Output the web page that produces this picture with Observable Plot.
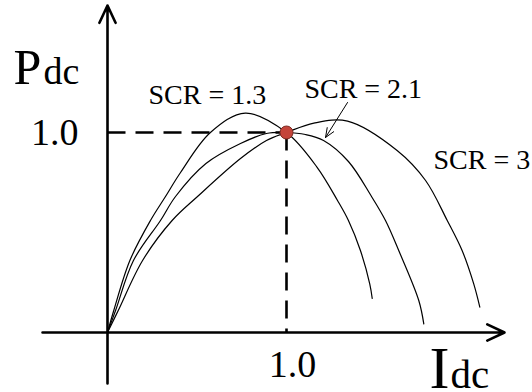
<!DOCTYPE html>
<html>
<head>
<meta charset="utf-8">
<script src="https://cdn.jsdelivr.net/npm/d3@7"></script>
<script src="https://cdn.jsdelivr.net/npm/@observablehq/plot@0.6"></script>
<style>
  body { margin: 0; background: #fff; }
  #chart svg { display: block; }
</style>
</head>
<body>
<div id="chart"></div>
<script>
// Pdc–Idc characteristics for three short-circuit ratios (per-unit values)
const scrNames = ["SCR = 1.3", "SCR = 2.1", "SCR = 3"];

const idc13 = [0, 0.035, 0.125, 0.24, 0.324, 0.408, 0.575, 0.77, 1.0, 1.171, 1.285, 1.346, 1.413, 1.465, 1.479];
const pdc13 = [0, 0.11, 0.36, 0.56, 0.68, 0.80, 1.0, 1.097, 1.0, 0.826, 0.66, 0.56, 0.41, 0.243, 0.17];

const idc21 = [0, 0.045, 0.145, 0.296, 0.38, 0.55, 0.743, 0.888, 1.0, 1.106, 1.207, 1.346, 1.475, 1.553, 1.627, 1.739, 1.767];
const pdc21 = [0, 0.11, 0.36, 0.56, 0.68, 0.845, 0.945, 0.995, 1.0, 0.99, 0.96, 0.855, 0.68, 0.56, 0.41, 0.16, 0.043];

const idc3 = [0, 0.06, 0.196, 0.361, 0.503, 0.743, 0.888, 1.0, 1.153, 1.341, 1.618, 1.777, 1.898, 1.981, 2.046, 2.08];
const pdc3 = [0, 0.11, 0.36, 0.56, 0.68, 0.87, 0.96, 1.0, 1.047, 1.057, 0.91, 0.76, 0.56, 0.41, 0.243, 0.127];

// Rated operating point
const ratedIdc = 1.0;
const ratedPdc = 1.0;
const tickLabel = "1.0";

// Label anchor positions (data units) for the SCR labels
const labelIdc = [0.229, 1.10, 1.821];
const labelPdc = [1.145, 1.175, 0.82];

const toRows = (name, xs, ys) => xs.map((x, i) => ({scr: name, idc: x, pdc: ys[i]}));
const curves = [
  ...toRows(scrNames[0], idc13, pdc13),
  ...toRows(scrNames[1], idc21, pdc21),
  ...toRows(scrNames[2], idc3, pdc3)
];
const labels = scrNames.map((s, i) => ({text: s, idc: labelIdc[i], pdc: labelPdc[i]}));

const serif = "'Liberation Serif', 'Times New Roman', serif";

const chart = Plot.plot({
  width: 532,
  height: 392,
  marginTop: 0, marginRight: 0, marginBottom: 0, marginLeft: 0,
  x: {domain: [-107 / 179, 425 / 179], axis: null},
  y: {domain: [-60 / 200, 332 / 200], axis: null},
  style: {background: "#fff", fontFamily: serif},
  marks: [
    // characteristic curves
    Plot.line(curves, {x: "idc", y: "pdc", z: "scr", curve: "catmull-rom", stroke: "#000", strokeWidth: 1.2}),
    // dashed guides to the rated point
    Plot.link([{x1: 0, y1: ratedPdc, x2: ratedIdc, y2: ratedPdc}], {x1: "x1", y1: "y1", x2: "x2", y2: "y2", stroke: "#000", strokeWidth: 2.6, strokeDasharray: "18,10"}),
    Plot.link([{x1: ratedIdc, y1: ratedPdc, x2: ratedIdc, y2: 0}], {x1: "x1", y1: "y1", x2: "x2", y2: "y2", stroke: "#000", strokeWidth: 2.6, strokeDasharray: "18,10"}),
    // axes with arrowheads
    Plot.arrow([{x1: -0.363, y1: 0, x2: 2.218, y2: 0}], {x1: "x1", y1: "y1", x2: "x2", y2: "y2", stroke: "#000", strokeWidth: 2.6, headLength: 11, headAngle: 50}),
    Plot.arrow([{x1: 0, y1: -0.255, x2: 0, y2: 1.635}], {x1: "x1", y1: "y1", x2: "x2", y2: "y2", stroke: "#000", strokeWidth: 2.6, headLength: 11, headAngle: 50}),
    // pointer to the SCR = 2.1 curve
    Plot.arrow([{x1: 1.341, y1: 1.15, x2: 1.218, y2: 0.975}], {x1: "x1", y1: "y1", x2: "x2", y2: "y2", stroke: "#000", strokeWidth: 1, headLength: 15, headAngle: 45}),
    // rated point marker
    Plot.dot([{idc: ratedIdc, pdc: ratedPdc}], {x: "idc", y: "pdc", r: 6.5, fill: "#c4443a", stroke: "#7d2a22", strokeWidth: 1}),
    // curve labels
    Plot.text(labels, {x: "idc", y: "pdc", text: "text", textAnchor: "start", lineAnchor: "bottom", fontSize: 28, fill: "#000", fontFamily: serif}),
    // tick labels
    Plot.text([tickLabel], {x: 0, y: ratedPdc, text: d => d, textAnchor: "end", lineAnchor: "middle", dx: -29, fontSize: 38, fill: "#000", fontFamily: serif}),
    Plot.text([tickLabel], {x: ratedIdc, y: 0, text: d => d, textAnchor: "middle", lineAnchor: "top", dx: 6, dy: 18, fontSize: 38, fill: "#000", fontFamily: serif}),
    // axis titles
    Plot.text(["P"], {x: -0.525, y: 1.245, text: d => d, textAnchor: "start", lineAnchor: "bottom", fontSize: 50, fill: "#000", fontFamily: serif}),
    Plot.text(["dc"], {x: -0.358, y: 1.245, text: d => d, textAnchor: "start", lineAnchor: "bottom", fontSize: 38, fill: "#000", fontFamily: serif}),
    Plot.text(["I"], {x: 1.799, y: -0.275, text: d => d, textAnchor: "start", lineAnchor: "bottom", fontSize: 60, fill: "#000", fontFamily: serif}),
    Plot.text(["dc"], {x: 1.916, y: -0.275, text: d => d, textAnchor: "start", lineAnchor: "bottom", fontSize: 41, fill: "#000", fontFamily: serif})
  ]
});

document.getElementById("chart").append(chart);
</script>
</body>
</html>
